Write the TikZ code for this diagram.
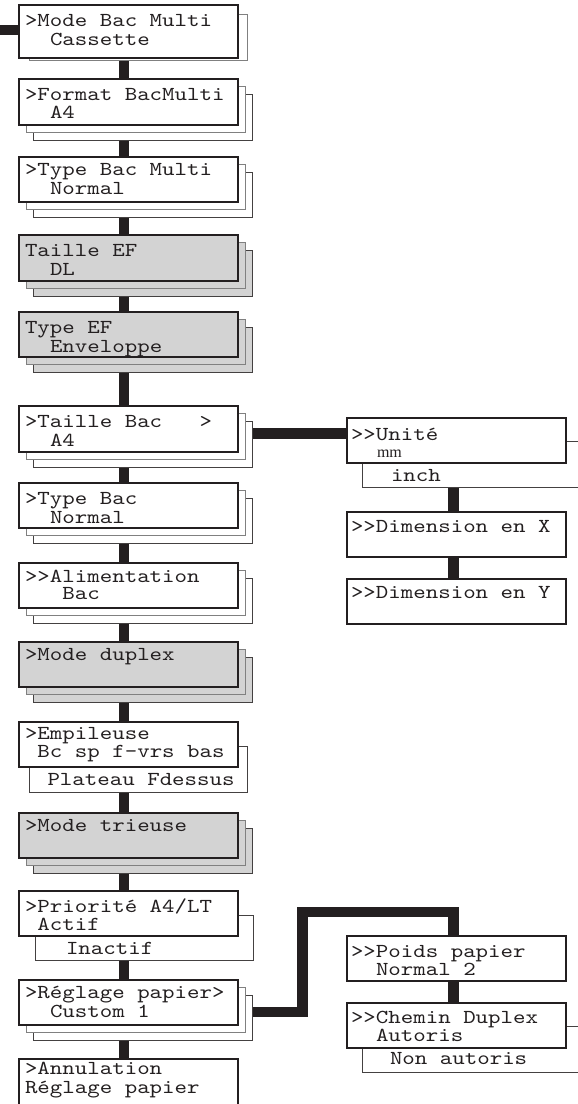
\documentclass[tikz,border=0pt]{standalone}
\usepackage{fontspec}
\newfontfamily\cour{lmmono10-regular.otf}[FakeStretch=1.2]
\newfontfamily\tms{Liberation Serif}
\usetikzlibrary{calc}
\pgfdeclarelayer{bars}
\pgfdeclarelayer{stacks}
\pgfsetlayers{bars,stacks,main}
\definecolor{ink}{HTML}{231F20}
\definecolor{shade}{HTML}{D3D3D3}
\tikzset{
  frontbox/.style={rectangle, draw=ink, line width=1.2pt, fill=white, minimum width=219pt, inner sep=0pt, outer sep=0pt},
  shadedbox/.style={frontbox, fill=shade},
  layertwo/.style={draw=black!50, line width=1pt},
  layerthree/.style={draw=ink!85, line width=1pt},
  barline/.style={draw=ink, line width=10.5pt},
  txt/.style={anchor=base west, inner sep=0pt, outer sep=0pt, text=ink, text height=12pt, text depth=3pt, font=\cour\fontsize{19.8}{20}\selectfont},
  smalltxt/.style={anchor=base west, inner sep=0pt, outer sep=0pt, text=ink, text height=7pt, text depth=0pt, font=\tms\fontsize{16}{16}\selectfont},
}
\newcommand\stackthree[2]{%
  \begin{pgfonlayer}{stacks}
    \draw[layerthree, fill=#2] ([shift={(14.5,15)}]#1.north west) rectangle ([shift={(14.5,15)}]#1.south east);
    \draw[layertwo, fill=#2] ([shift={(7,7.5)}]#1.north west) rectangle ([shift={(7,7.5)}]#1.south east);
  \end{pgfonlayer}}
\begin{document}
\begin{tikzpicture}[x=1pt, y=-1pt]
\useasboundingbox (0,0) rectangle (578,1104);

% ---------- main column boxes ----------
\node[frontbox, minimum height=53pt] (mb)  at (128.5,31.5) {};
\node[frontbox, minimum height=46pt] (fb)  at (128.5,102) {};
\node[frontbox, minimum height=45pt] (tbm) at (128.5,179.5) {};
\node[shadedbox, minimum height=46pt] (tef) at (128.5,258) {};
\node[shadedbox, minimum height=45pt] (tyef) at (128.5,334.5) {};
\node[frontbox, minimum height=46pt] (tb)  at (128.5,429) {};
\node[frontbox, minimum height=45pt] (tyb) at (128.5,505.5) {};
\node[frontbox, minimum height=45pt] (al)  at (128.5,585.5) {};
\node[shadedbox, minimum height=45pt] (md) at (128.5,664.5) {};
\node[frontbox, minimum height=45pt] (emp) at (128.5,744.5) {};
\node[shadedbox, minimum height=45pt] (mt) at (128.5,835.5) {};
\node[frontbox, minimum height=45pt] (pr)  at (128.5,913.5) {};
\node[frontbox, minimum height=45pt] (rp)  at (128.5,1002.5) {};
\node[frontbox, minimum height=56pt] (an)  at (128.5,1087) {};

% ---------- right column boxes ----------
\node[frontbox, minimum height=45pt] (un) at (456.5,440.5) {};
\node[frontbox, minimum height=45pt] (dx) at (456.5,534.5) {};
\node[frontbox, minimum height=45pt] (dy) at (456.5,601.5) {};
\node[frontbox, minimum height=45pt] (pp) at (456.5,958.5) {};
\node[frontbox, minimum height=45pt] (cd) at (456.5,1025.5) {};

% ---------- layers behind ----------
\stackthree{fb}{white}
\stackthree{tbm}{white}
\stackthree{tef}{shade}
\stackthree{tyef}{shade}
\stackthree{tb}{white}
\stackthree{tyb}{white}
\stackthree{al}{white}
\stackthree{md}{shade}
\stackthree{mt}{shade}
\stackthree{rp}{white}
\begin{pgfonlayer}{stacks}
  \draw[layertwo, fill=white] ([shift={(10,9)}]mb.north west) rectangle ([shift={(9,2)}]mb.south east);
  \draw[layerthree, fill=white] ([shift={(10,24)}]emp.north west) rectangle ([shift={(9.5,25)}]emp.south east);
  \draw[layerthree, fill=white] ([shift={(16,24)}]pr.north west) rectangle ([shift={(15.5,24)}]pr.south east);
  \draw[layerthree, fill=white] ([shift={(15,23)}]un.north west) rectangle ([shift={(34,24)}]un.south east);
  \draw[layerthree, fill=white] ([shift={(15,23)}]cd.north west) rectangle ([shift={(34,24)}]cd.south east);
\end{pgfonlayer}

% ---------- connectors ----------
\coordinate (entry) at (0,30);
\coordinate (tbuy) at (0,433.5);
\coordinate (rpy) at (0,1012);
\coordinate (j1) at (302.5,912);
\begin{pgfonlayer}{bars}
  \draw[barline] (entry) -- (entry -| mb.west);
  \foreach \a/\b in {mb/fb, fb/tbm, tbm/tef, tef/tyef, tyef/tb, tb/tyb, tyb/al, al/md, md/emp, emp/mt, mt/pr, pr/rp, rp/an}
    \draw[barline] ([xshift=-4.5pt]\a.south) -- ([xshift=-4.5pt]\b.north);
  \foreach \a/\b in {un/dx, dx/dy, pp/cd}
    \draw[barline] ([xshift=-3pt]\a.south) -- ([xshift=-3pt]\b.north);
  \draw[barline] (tb.east |- tbuy) -- (un.west |- tbuy);
  \draw[barline, line join=miter] (rp.east |- rpy) -| (j1) -| ([xshift=-3pt]pp.north);
\end{pgfonlayer}

% ---------- texts ----------
\node[txt] (t1a) at (25,26) {>Mode Bac Multi};
\node[txt] (t1b) at (50,45) {Cassette};
\node[txt] (t2a) at (25,100) {>Format BacMulti};
\node[txt] (t2b) at (50,118) {A4};
\node[txt] (t3a) at (25,175) {>Type Bac Multi};
\node[txt] (t3b) at (50,194) {Normal};
\node[txt] (t4a) at (25,256) {Taille EF};
\node[txt] (t4b) at (50,275) {DL};
\node[txt] (t5a) at (25,333) {Type EF};
\node[txt] (t5b) at (50,352) {Enveloppe};
\node[txt] (t6a) at (25,427) {>Taille Bac\ \ \ >};
\node[txt] (t6b) at (50,446) {A4};
\node[txt] (t7a) at (25,504) {>Type Bac};
\node[txt] (t7b) at (50,523) {Normal};
\node[txt] (t8a) at (25,582) {>>Alimentation};
\node[txt] (t8b) at (62.4,599) {Bac};
\node[txt] (t9a) at (25,660) {>Mode duplex};
\node[txt] (t10a) at (25,739) {>Empileuse};
\node[txt] (t10b) at (37.5,757) {Bc sp f-vrs bas};
\node[txt] (t10c) at (47.5,785) {Plateau Fdessus};
\node[txt] (t11a) at (25,831) {>Mode trieuse};
\node[txt] (t12a) at (25,912) {>Priorité A4/LT};
\node[txt] (t12b) at (37.5,930) {Actif};
\node[txt] (t12c) at (66,954) {Inactif};
\node[txt] (t13a) at (25,998) {>Réglage papier>};
\node[txt] (t13b) at (50,1017) {Custom 1};
\node[txt] (t14a) at (25,1074) {>Annulation};
\node[txt] (t14b) at (25,1093) {Réglage papier};

\node[txt] (r1a) at (351,440) {>>Unité};
\node[smalltxt] (r1b) at (377,457) {mm};
\node[txt] (r1c) at (391,481) {inch};
\node[txt] (r2a) at (351,532) {>>Dimension en X};
\node[txt] (r3a) at (351,598) {>>Dimension en Y};
\node[txt] (r4a) at (351,957) {>>Poids papier};
\node[txt] (r4b) at (376,975) {Normal 2};
\node[txt] (r5a) at (351,1023) {>>Chemin Duplex};
\node[txt] (r5b) at (376,1041) {Autoris};
\node[txt] (r5c) at (390,1064) {Non autoris};
\end{tikzpicture}
\end{document}
